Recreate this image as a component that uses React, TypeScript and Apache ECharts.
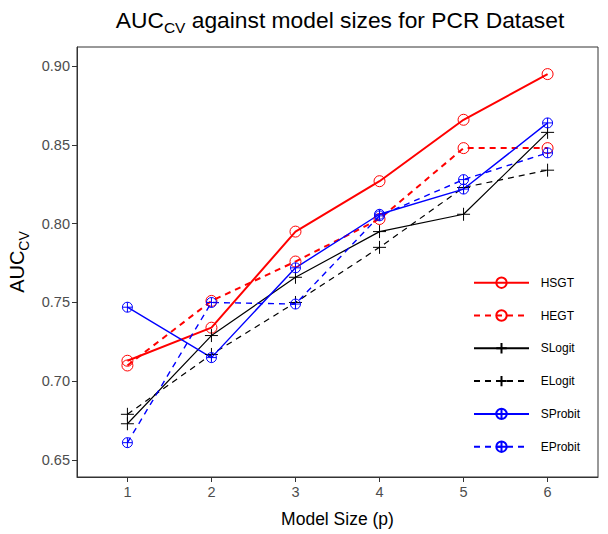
import React, { useEffect, useRef } from "react";
import * as echarts from "echarts";

const modelSizes = [1, 2, 3, 4, 5, 6];
const hsgt = [0.713, 0.734, 0.795, 0.827, 0.866, 0.895];
const hegt = [0.71, 0.751, 0.776, 0.803, 0.848, 0.848];
const slogit = [0.673, 0.729, 0.766, 0.795, 0.806, 0.858];
const elogit = [0.679, 0.717, 0.75, 0.785, 0.823, 0.834];
const sprobit = [0.747, 0.715, 0.772, 0.806, 0.822, 0.864];
const eprobit = [0.661, 0.75, 0.749, 0.805, 0.828, 0.845];
const yTicks = [0.65, 0.7, 0.75, 0.8, 0.85, 0.9];
const xTicks = [1, 2, 3, 4, 5, 6];
const legendNames = ["HSGT", "HEGT", "SLogit", "ELogit", "SProbit", "EProbit"];

const FONT = "Liberation Sans, Arial, sans-serif";
const CIRCLE = "path://M-5,0A5,5 0 1,0 5,0A5,5 0 1,0 -5,0Z";
const PLUS = "path://M0,-5L0,5M-5,0L5,0";
const OPLUS = "path://M-5,0A5,5 0 1,0 5,0A5,5 0 1,0 -5,0ZM-5,0L5,0M0,-5L0,5";

function mk(name: string, vals: number[], color: string, dashed: boolean, width: number, symbol: string, size: number) {
  return {
    name,
    type: "line",
    data: modelSizes.map((x, i) => [x, vals[i]]),
    symbol,
    symbolSize: size,
    showAllSymbol: true,
    lineStyle: { color, width, type: dashed ? [6, 5] : "solid" },
    itemStyle: { color: "none", borderColor: color, borderWidth: 1 },
    emphasis: { disabled: true },
  };
}

export default function App() {
  const ref = useRef<HTMLDivElement>(null);
  useEffect(() => {
    const chart = echarts.init(ref.current!, null, { renderer: "svg" });
    chart.setOption({
      animation: false,
      backgroundColor: "#fff",
      title: {
        text: "{a|AUC}{b|CV}{a| against model sizes for PCR Dataset}",
        left: 335,
        textAlign: "center",
        top: 0,
        textStyle: {
          fontWeight: "normal",
          rich: {
            a: { fontFamily: FONT, fontSize: 22.8, fontWeight: "normal", color: "#000", lineHeight: 26, verticalAlign: "bottom" },
            b: { fontFamily: FONT, fontSize: 15.5, fontWeight: "normal", color: "#000", lineHeight: 26, verticalAlign: "bottom", padding: [0, 0, -4, 0] },
          },
        },
      },
      grid: {
        left: 77,
        right: 10,
        top: 47,
        bottom: 57,
        show: true,
        borderColor: "#333",
        borderWidth: 1,
        containLabel: false,
        outerBoundsMode: "none",
      },
      legend: {
        orient: "vertical",
        left: 468,
        top: 270,
        itemWidth: 55,
        itemHeight: 13,
        itemGap: 17.4,
        formatter: (n: string) => "  " + n,
        textStyle: { fontFamily: FONT, fontSize: 12, color: "#000" },
        data: legendNames,
      },
      xAxis: {
        type: "value",
        min: 0.4,
        max: 6.6,
        name: "Model Size (p)",
        nameLocation: "middle",
        nameGap: 33,
        nameTextStyle: { fontFamily: FONT, fontSize: 17.5, color: "#000" },
        axisLine: { show: true, lineStyle: { color: "#333", width: 1 } },
        axisTick: { show: true, length: 5, customValues: xTicks, lineStyle: { color: "#333" } },
        axisLabel: { customValues: xTicks, fontFamily: FONT, fontSize: 14.5, color: "#4d4d4d", margin: 7 },
        splitLine: { show: false },
      },
      yAxis: {
        type: "value",
        min: 0.6392,
        max: 0.9122,
        name: "{a|AUC}{b|CV}",
        nameLocation: "middle",
        nameGap: 30,
        nameRotate: 90,
        nameTextStyle: {
          rich: {
            a: { fontFamily: FONT, fontSize: 20, color: "#000", lineHeight: 24, verticalAlign: "bottom" },
            b: { fontFamily: FONT, fontSize: 14, color: "#000", lineHeight: 24, verticalAlign: "bottom", padding: [0, 0, -4, 0] },
          },
        },
        axisLine: { show: true, lineStyle: { color: "#333", width: 1 } },
        axisTick: { show: true, length: 5, customValues: yTicks, lineStyle: { color: "#333" } },
        axisLabel: {
          customValues: yTicks,
          formatter: (v: number) => v.toFixed(2),
          fontFamily: FONT,
          fontSize: 14.5,
          color: "#4d4d4d",
          margin: 7,
        },
        splitLine: { show: false },
      },
      series: [
        mk("HSGT", hsgt, "#ff0000", false, 2, CIRCLE, 11),
        mk("HEGT", hegt, "#ff0000", true, 2, CIRCLE, 11),
        mk("SLogit", slogit, "#000000", false, 1.2, PLUS, 13),
        mk("ELogit", elogit, "#000000", true, 1.2, PLUS, 13),
        mk("SProbit", sprobit, "#0000ff", false, 1.4, OPLUS, 10),
        mk("EProbit", eprobit, "#0000ff", true, 1.4, OPLUS, 10),
      ],
    });
    return () => chart.dispose();
  }, []);
  return <div ref={ref} style={{ position: "fixed", left: 0, top: 0, width: 608, height: 534 }} />;
}
